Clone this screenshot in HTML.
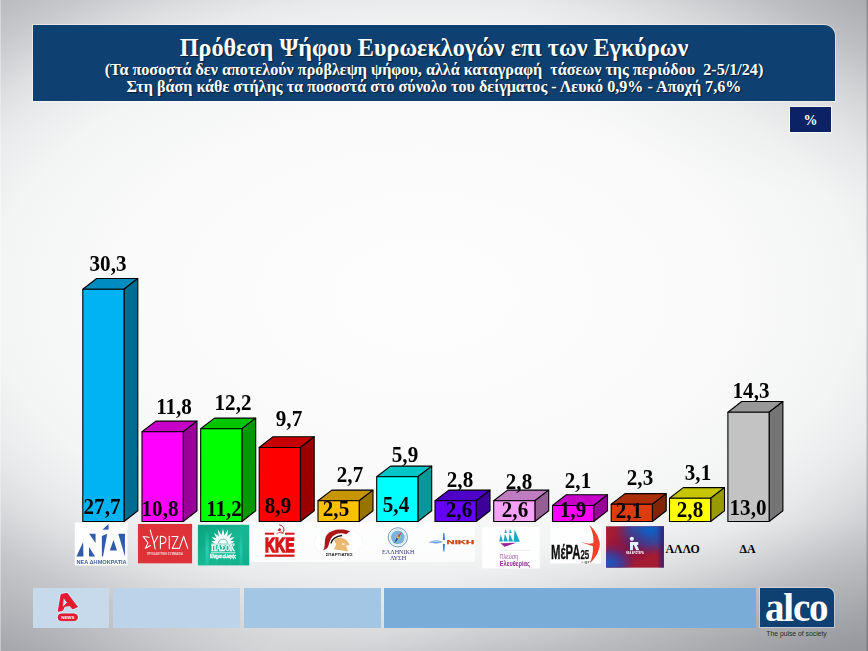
<!DOCTYPE html>
<html lang="el">
<head>
<meta charset="utf-8">
<title>Πρόθεση Ψήφου Ευρωεκλογών</title>
<style>
html,body{margin:0;padding:0;}
body{width:868px;height:651px;overflow:hidden;position:relative;background:#e9e9e9;font-family:"Liberation Serif",serif;}
#bg{position:absolute;left:0;top:0;width:868px;height:651px;
 background:
  linear-gradient(to right, rgba(255,255,255,.35) 0px, rgba(255,255,255,.35) 1px, rgba(255,255,255,0) 1.5px),
  linear-gradient(to left, rgba(60,60,64,.30) 0px, rgba(60,60,64,.30) 1px, rgba(60,60,64,0) 2px),
  radial-gradient(ellipse 340px 200px at 868px 0px, rgba(70,72,76,.10) 0%, rgba(70,72,76,0) 100%),
  radial-gradient(ellipse 420px 130px at 800px 651px, rgba(70,72,76,.16) 0%, rgba(70,72,76,0) 100%),
  radial-gradient(ellipse 220px 70px at 270px 651px, rgba(255,255,255,.28) 0%, rgba(255,255,255,0) 100%),
  radial-gradient(ellipse 600px 360px at 425px 295px, #fdfdfd 0%, #fafafa 50%, #f3f4f4 72%, #e9eaeb 83%, #dddee0 90%, #c7c8cb 100%, #b7b8bc 110%, #a7a8ad 120%, #9b9ca1 132%);
}
#hdr{position:absolute;left:33px;top:25px;width:802px;height:76px;background:#0e4071;border-top-right-radius:11px;
 box-shadow:0 0 0 1px rgba(255,255,255,.45);}
.t{position:absolute;left:0;width:868px;text-align:center;color:#fff;font-weight:bold;white-space:pre;
 text-shadow:1px 1px 1px rgba(0,0,0,.55);}
#t1{top:35.5px;font-size:24.2px;line-height:24.2px;}
#t2{top:61.8px;font-size:16.15px;line-height:16.15px;}
#t3{top:78.8px;font-size:16.15px;line-height:16.15px;}
#pct{position:absolute;left:789.5px;top:107px;width:41px;height:25px;padding-left:1px;box-sizing:border-box;background:#0b2264;box-shadow:0 0 0 1px rgba(255,255,255,.7);
 color:#fff;font-weight:bold;font-size:14px;line-height:27px;text-align:center;}
#chart{position:absolute;left:0;top:0;}
.v{position:absolute;width:80px;text-align:center;font-weight:bold;font-size:22px;line-height:22px;color:#000;white-space:pre;transform:scale(.957,1.05);transform-origin:50% 83.75%;}
.x{position:absolute;font-weight:bold;font-size:11.9px;line-height:12px;color:#000;white-space:pre;}
.seg{position:absolute;top:588px;height:39.7px;}
#alco{position:absolute;left:759.7px;top:588.3px;width:74px;height:39.1px;background:#0e4071;border-top-right-radius:7px;
 box-shadow:0 0 0 1px rgba(255,255,255,.35);}
#alco span{position:absolute;left:5.2px;top:-2.6px;color:#fff;font-weight:bold;font-size:39px;line-height:44px;letter-spacing:-1.15px;}
#pulse{position:absolute;left:766.3px;top:630.2px;font-family:"Liberation Sans",sans-serif;font-size:6.8px;line-height:8px;color:#2a2a2a;white-space:pre;}
</style>
</head>
<body>
<div id="bg"></div>

<div id="hdr"></div>
<div class="t" id="t1">Πρόθεση Ψήφου Ευρωεκλογών επι των Εγκύρων</div>
<div class="t" id="t2">(Τα ποσοστά δεν αποτελούν πρόβλεψη ψήφου, αλλά καταγραφή  τάσεων της περιόδου  2-5/1/24)</div>
<div class="t" id="t3">Στη βάση κάθε στήλης τα ποσοστά στο σύνολο του δείγματος - Λευκό 0,9% - Αποχή 7,6%</div>
<div id="pct">%</div>

<svg id="chart" width="868" height="651" viewBox="0 0 868 651">
<g stroke="#000" stroke-width="1.1" stroke-linejoin="round">
<polygon points="82.8,289.2 96.6,278.5 137.8,278.5 124.0,289.2" fill="#008cbe"/>
<polygon points="124.0,289.2 137.8,278.5 137.8,510.8 124.0,521.5" fill="#006c92"/>
<rect x="82.8" y="289.2" width="41.2" height="232.3" fill="#00b4f4"/>
<polygon points="142.0,431.8 155.8,421.1 197.0,421.1 183.2,431.8" fill="#c600c6"/>
<polygon points="183.2,431.8 197.0,421.1 197.0,510.8 183.2,521.5" fill="#990099"/>
<rect x="142.0" y="431.8" width="41.2" height="89.7" fill="#ff00ff"/>
<polygon points="200.7,428.8 214.5,418.1 255.7,418.1 241.9,428.8" fill="#00c600"/>
<polygon points="241.9,428.8 255.7,418.1 255.7,510.8 241.9,521.5" fill="#009900"/>
<rect x="200.7" y="428.8" width="41.2" height="92.7" fill="#00ff00"/>
<polygon points="259.2,447.5 273.0,436.8 314.2,436.8 300.4,447.5" fill="#c60000"/>
<polygon points="300.4,447.5 314.2,436.8 314.2,510.8 300.4,521.5" fill="#990000"/>
<rect x="259.2" y="447.5" width="41.2" height="74.0" fill="#ff0000"/>
<polygon points="318.0,500.8 331.8,490.1 373.0,490.1 359.2,500.8" fill="#c69500"/>
<polygon points="359.2,500.8 373.0,490.1 373.0,510.8 359.2,521.5" fill="#997300"/>
<rect x="318.0" y="500.8" width="41.2" height="20.7" fill="#ffc000"/>
<polygon points="376.7,476.8 390.5,466.1 431.7,466.1 417.9,476.8" fill="#00c6c6"/>
<polygon points="417.9,476.8 431.7,466.1 431.7,510.8 417.9,521.5" fill="#009999"/>
<rect x="376.7" y="476.8" width="41.2" height="44.7" fill="#00ffff"/>
<polygon points="435.0,500.8 448.8,490.1 490.0,490.1 476.2,500.8" fill="#4f00c6"/>
<polygon points="476.2,500.8 490.0,490.1 490.0,510.8 476.2,521.5" fill="#3d0099"/>
<rect x="435.0" y="500.8" width="41.2" height="20.7" fill="#6600ff"/>
<polygon points="493.7,500.8 507.5,490.1 548.7,490.1 534.9,500.8" fill="#c07cc0"/>
<polygon points="534.9,500.8 548.7,490.1 548.7,510.8 534.9,521.5" fill="#946094"/>
<rect x="493.7" y="500.8" width="41.2" height="20.7" fill="#f7a0f7"/>
<polygon points="552.5,505.5 566.3,494.8 607.5,494.8 593.7,505.5" fill="#c600c6"/>
<polygon points="593.7,505.5 607.5,494.8 607.5,510.8 593.7,521.5" fill="#990099"/>
<rect x="552.5" y="505.5" width="41.2" height="16.0" fill="#ff00ff"/>
<polygon points="611.2,504.3 625.0,493.6 666.2,493.6 652.4,504.3" fill="#ac2e09"/>
<polygon points="652.4,504.3 666.2,493.6 666.2,510.8 652.4,521.5" fill="#842407"/>
<rect x="611.2" y="504.3" width="41.2" height="17.2" fill="#dd3c0c"/>
<polygon points="669.5,498.3 683.3,487.6 724.5,487.6 710.7,498.3" fill="#c6c600"/>
<polygon points="710.7,498.3 724.5,487.6 724.5,510.8 710.7,521.5" fill="#999900"/>
<rect x="669.5" y="498.3" width="41.2" height="23.2" fill="#ffff00"/>
<polygon points="727.9,412.2 741.7,401.5 782.9,401.5 769.1,412.2" fill="#989898"/>
<polygon points="769.1,412.2 782.9,401.5 782.9,510.8 769.1,521.5" fill="#757575"/>
<rect x="727.9" y="412.2" width="41.2" height="109.3" fill="#c3c3c3"/>
</g>
</svg>

<div class="v" style="left:67.7px;top:252.6px">30,3</div>
<div class="v" style="left:134.0px;top:396.2px">11,8</div>
<div class="v" style="left:192.8px;top:392.4px">12,2</div>
<div class="v" style="left:248.8px;top:408.1px">9,7</div>
<div class="v" style="left:309.6px;top:464.4px">2,7</div>
<div class="v" style="left:364.6px;top:443.9px">5,9</div>
<div class="v" style="left:419.8px;top:468.6px">2,8</div>
<div class="v" style="left:478.8px;top:471.4px">2,8</div>
<div class="v" style="left:537.5px;top:469.9px">2,1</div>
<div class="v" style="left:600.4px;top:466.9px">2,3</div>
<div class="v" style="left:657.9px;top:462.4px">3,1</div>
<div class="v" style="left:711.3px;top:379.9px">14,3</div>
<div class="v" style="left:61.5px;top:496.3px">27,7</div>
<div class="v" style="left:120.3px;top:497.8px">10,8</div>
<div class="v" style="left:183.5px;top:497.8px">11,2</div>
<div class="v" style="left:238.0px;top:494.9px">8,9</div>
<div class="v" style="left:296.3px;top:498.1px">2,5</div>
<div class="v" style="left:355.9px;top:493.6px">5,4</div>
<div class="v" style="left:418.5px;top:498.8px">2,6</div>
<div class="v" style="left:474.6px;top:498.8px">2,6</div>
<div class="v" style="left:532.8px;top:498.8px">1,9</div>
<div class="v" style="left:589.4px;top:499.8px">2,1</div>
<div class="v" style="left:650.3px;top:498.8px">2,8</div>
<div class="v" style="left:708.0px;top:496.8px">13,0</div>

<div class="x" style="left:665.5px;top:542.5px">ΑΛΛΟ</div>
<div class="x" style="left:739.5px;top:543px">ΔΑ</div>

<svg id="logos" style="position:absolute;left:0;top:0" width="868" height="651" viewBox="0 0 868 651" font-family="Liberation Sans, sans-serif">
<defs>
<linearGradient id="gp" x1="0" y1="0" x2="1" y2="1"><stop offset="0" stop-color="#0aa27c"/><stop offset=".5" stop-color="#16b892"/><stop offset="1" stop-color="#10ae8c"/></linearGradient>
<linearGradient id="gps" x1="0" y1="0" x2="0" y2="1"><stop offset="0" stop-color="#3fe8d8" stop-opacity="0"/><stop offset=".55" stop-color="#3fe8d8" stop-opacity=".55"/><stop offset="1" stop-color="#3fe8d8" stop-opacity=".25"/></linearGradient>
<radialGradient id="na1" cx="0.76" cy="0.08" r="0.62"><stop offset="0" stop-color="#0a62c8"/><stop offset=".55" stop-color="#1c50b4" stop-opacity=".75"/><stop offset="1" stop-color="#2a3aa0" stop-opacity="0"/></radialGradient>
<radialGradient id="na2" cx="0.05" cy="0.88" r="0.46"><stop offset="0" stop-color="#1c58c0"/><stop offset=".5" stop-color="#3040a8" stop-opacity=".8"/><stop offset="1" stop-color="#5a2890" stop-opacity="0"/></radialGradient>
<linearGradient id="na3" x1="0" y1="0" x2="1" y2="0"><stop offset=".88" stop-color="#281c78" stop-opacity="0"/><stop offset="1" stop-color="#281c78" stop-opacity=".85"/></linearGradient>
<radialGradient id="na4" cx="0.42" cy="0.5" r="0.42"><stop offset="0" stop-color="#5c1464" stop-opacity=".55"/><stop offset="1" stop-color="#5c1464" stop-opacity="0"/></radialGradient>
<filter id="b1" x="-20%" y="-20%" width="140%" height="140%"><feGaussianBlur stdDeviation="0.35"/></filter>
</defs>
<g filter="url(#b1)">
<rect x="74.8" y="522.4" width="52.6" height="43" fill="#fefefe"/>
<g fill="#2d5cab">
<polygon points="76.49,556.49 83.12,541.96 83.42,556.49"/>
<polygon points="89.17,533.63 95.59,533.63 95.59,542.92"/>
<polygon points="89.02,547.12 89.02,556.49 95.07,556.49"/>
<polygon points="108.49,524.05 108.64,529.43 102.44,529.65"/>
<polygon points="101.85,536.06 107.24,533.63 102.96,556.49 101.85,556.49"/>
<polygon points="113.50,540.12 116.97,550.44 109.82,550.44"/>
<polygon points="118.29,533.63 124.93,533.63 124.93,556.49"/>
</g>
<text x="76.4" y="563.9" font-size="4.9" font-weight="bold" fill="#44639c" textLength="50.3" lengthAdjust="spacingAndGlyphs">ΝΕΑ ΔΗΜΟΚΡΑΤΙΑ</text>
<rect x="137.4" y="523.4" width="55.2" height="40.5" fill="#fbf4f4"/>
<rect x="137.9" y="523.9" width="54.2" height="39.5" fill="#dc3238"/>
<g fill="none" stroke="#fff" stroke-width="1.05" stroke-linecap="round" stroke-linejoin="round">
<polyline points="149.11,537.32 143.06,536.43 147.93,542.70 145.49,548.38 150.43,545.43"/>
<polyline points="150.14,529.94 154.12,543.07 155.08,548.97"/>
<polyline points="157.81,536.14 154.12,543.07"/>
<path d="M160.39,548.60 L160.39,536.29 C167.85,536.29 167.85,543.66 160.39,543.66"/>
<polyline points="169.24,536.21 169.24,548.60"/>
<polyline points="171.89,536.43 178.01,536.43 172.26,548.38 178.45,548.38"/>
<polyline points="179.34,548.60 183.61,536.21 187.82,548.60"/>
</g>
<text x="147.1" y="554.9" font-size="2.7" font-weight="bold" fill="#fff" fill-opacity=".8" textLength="35.8" lengthAdjust="spacingAndGlyphs">ΠΡΟΟΔΕΥΤΙΚΗ ΣΥΜΜΑΧΙΑ</text>
<rect x="197.9" y="524.8" width="51.3" height="40.6" fill="url(#gp)"/>
<rect x="205.5" y="530" width="3.2" height="35.4" fill="url(#gps)" opacity="0.90"/>
<rect x="215.5" y="530" width="2.2" height="35.4" fill="url(#gps)" opacity="0.35"/>
<rect x="228.5" y="530" width="2.4" height="35.4" fill="url(#gps)" opacity="0.30"/>
<rect x="239.5" y="530" width="3.0" height="35.4" fill="url(#gps)" opacity="0.70"/>
<g fill="#fff"><polygon points="217.34,540.54 211.25,541.52 216.64,544.52"/><polygon points="218.72,538.80 211.54,536.99 216.70,542.30"/><polygon points="220.61,537.63 213.80,532.66 217.52,540.23"/><polygon points="222.79,537.19 217.85,529.53 218.99,538.57"/><polygon points="224.99,537.51 222.97,528.39 220.95,537.51"/><polygon points="226.94,538.57 228.08,529.53 223.15,537.19"/><polygon points="228.42,540.23 232.14,532.66 225.32,537.63"/><polygon points="229.24,542.30 234.40,536.99 227.22,538.80"/><polygon points="229.30,544.52 234.68,541.52 228.60,540.54"/>
<path d="M215.57,543.59 A7.4,7.4 0 0 1 230.37,543.59 Z"/>
</g>
<path d="M218.37,543.59 A4.6,4.6 0 0 1 227.57,543.59" fill="none" stroke="#16b48e" stroke-width=".7"/>
<rect x="211.2" y="543.6" width="23.6" height="1.0" fill="#fff"/>
<text x="211.3" y="551.3" font-family="Liberation Serif, serif" font-size="8.3" font-weight="bold" fill="#fff" stroke="#fff" stroke-width=".3" textLength="23.5" lengthAdjust="spacingAndGlyphs">ΠΑΣΟΚ</text>
<rect x="210.8" y="552.4" width="24.7" height=".8" fill="#fff"/>
<text x="210.1" y="557.9" font-size="4.8" font-weight="bold" font-style="italic" fill="#fff" stroke="#fff" stroke-width=".35" textLength="26" lengthAdjust="spacingAndGlyphs">Κίνημα αλλαγής</text>
<rect x="250.4" y="522" width="224.4" height="40" fill="#fefefe" opacity=".85"/>
<g fill="#d7161a">
<rect x="264.9" y="532.7" width="9.3" height="2.0"/><rect x="285.0" y="532.7" width="9.5" height="2.0"/>
<rect x="264.9" y="554.6" width="29.6" height="2.2"/>
<text x="264.9" y="551.9" font-size="19.4" font-weight="bold" stroke="#d7161a" stroke-width="1.5" stroke-linejoin="miter" textLength="29.6" lengthAdjust="spacingAndGlyphs">ΚΚΕ</text>
</g>
<path d="M279.56,524.78 C284.87,526.11 284.87,531.27 282.51,533.12" fill="none" stroke="#c8161a" stroke-width="1.0" stroke-linecap="round"/>
<polygon points="277.49,530.17 279.71,527.95 281.18,529.65 279.34,531.27" fill="#c8161a"/>
<polyline points="279.34,529.80 283.39,533.85" fill="none" stroke="#c8161a" stroke-width=".8"/>
<polyline points="276.39,533.85 278.97,532.38 282.51,533.12" fill="none" stroke="#c8161a" stroke-width=".7"/>
<ellipse cx="338.5" cy="542.4" rx="24" ry="15.5" fill="#fff" stroke="#f0f0f0" stroke-width=".5"/>
<path d="M322.75,550.44 C326.43,547.49 323.12,540.12 326.80,534.96 C330.86,529.80 341.18,527.95 350.18,531.27 C348.18,532.38 347.45,533.12 346.34,534.37 C340.44,532.01 333.81,533.85 330.86,538.65 C327.91,543.81 330.12,548.23 322.75,550.44 Z" fill="#ab1418"/>
<path d="M331.00,543.44 C331.59,539.38 336.02,536.06 342.06,535.55" fill="none" stroke="#1c1418" stroke-width="1.5"/>
<polygon points="333.95,540.12 337.12,538.06 341.92,537.76 346.34,540.12 349.73,544.69 345.75,545.87 348.26,551.55 342.65,550.44 333.81,549.34 336.17,544.54" fill="#ebb96e"/>
<polygon points="342.06,542.92 345.75,543.95 342.65,545.13" fill="#fff"/>
<text x="325.7" y="555.6" font-size="2.7" font-weight="bold" fill="#222" textLength="26.9" lengthAdjust="spacingAndGlyphs">ΣΠΑΡΤΙΑΤΕΣ</text>
<circle cx="397.85" cy="537.32" r="9.6" fill="#fff" stroke="#5f8cc4" stroke-width=".9"/>
<circle cx="397.85" cy="537.32" r="7.9" fill="none" stroke="#b9cfe6" stroke-width=".6"/>
<circle cx="397.85" cy="537.32" r="6.8" fill="#74b2dc"/>
<circle cx="397.85" cy="537.32" r="3.2" fill="#9cc8a0" opacity=".55"/>
<polygon points="401.91,531.49 398.81,538.28 396.97,536.80" fill="#d8343c"/>
<polygon points="394.24,543.59 396.97,536.80 398.81,538.28" fill="#2c3c98"/>
<circle cx="397.85" cy="537.52" r="1.1" fill="#f4d23c"/>
<text x="382.1" y="554.1" font-family="Liberation Serif, serif" font-size="5.4" fill="#34347c" textLength="32.2" lengthAdjust="spacingAndGlyphs">ΕΛΛΗΝΙΚΗ</text>
<text x="390.0" y="559.9" font-family="Liberation Serif, serif" font-size="5.4" fill="#34347c" textLength="16.2" lengthAdjust="spacingAndGlyphs">ΛΥΣΗ</text>
<polygon points="443.38,533.12 444.41,533.12 445.00,540.12 442.79,540.12" fill="#2f7cd8"/>
<polygon points="442.87,543.95 444.93,543.95 444.41,551.55 443.38,551.55" fill="#2f7cd8"/>
<path d="M428.64,542.33 C433.06,539.97 439.70,539.82 442.65,542.04 C439.33,543.95 433.06,543.66 428.64,542.33 Z" fill="#5a9ce4"/>
<path d="M430.85,542.33 C434.53,541.30 437.85,541.30 440.06,542.04" fill="none" stroke="#eef4fc" stroke-width=".6"/>
<text x="446.6" y="544.2" font-size="5.9" font-weight="bold" fill="#cc4614" stroke="#cc4614" stroke-width=".25" textLength="27.6" lengthAdjust="spacingAndGlyphs">ΝΙΚΗ</text>
<rect x="482.2" y="527" width="57.5" height="41.4" fill="#fefefe"/>
<g fill="#1fa8c4">
<polygon points="499.32,541.53 500.65,534.38 503.00,541.53"/>
<polygon points="503.45,541.53 504.92,533.64 508.02,541.53"/>
<polygon points="504.48,533.12 505.44,529.00 506.99,533.12"/>
<polygon points="508.46,541.53 509.49,533.64 513.18,541.53"/>
<polygon points="509.20,533.12 509.94,529.00 511.85,533.12"/>
<polygon points="513.62,541.82 514.65,529.44 519.96,541.82"/>
</g>
<polygon points="500.50,543.23 516.28,542.86 504.48,546.84" fill="#9a2296"/>
<rect x="499.8" y="549.9" width="30.4" height=".45" fill="#d4d4d4"/>
<text x="499.4" y="558.6" font-size="6.6" fill="#a860a8" textLength="19" lengthAdjust="spacingAndGlyphs">Πλεύση</text>
<text x="499.8" y="566.4" font-size="6.6" font-weight="bold" fill="#8e2890" textLength="30.2" lengthAdjust="spacingAndGlyphs">Ελευθερίας</text>
<rect x="550.3" y="523.5" width="50.5" height="39.9" fill="#fefefe"/>
<text x="551.0" y="558.6" font-size="19.7" font-weight="bold" fill="#111" stroke="#111" stroke-width=".35" textLength="29.4" lengthAdjust="spacingAndGlyphs">ΜέΡΑ</text>
<text x="580.4" y="558.6" font-size="12.4" font-weight="bold" fill="#111" stroke="#111" stroke-width=".25" textLength="8.9" lengthAdjust="spacingAndGlyphs">25</text>
<path d="M589.12,524.78 C595.61,530.53 599.30,537.91 599.89,543.95 C599.45,551.18 595.61,558.18 589.86,563.12 C591.93,558.92 593.25,552.65 592.96,546.02 C594.14,539.38 593.25,532.01 589.12,524.78 Z" fill="#f4402a"/>
<path d="M593.55,546.61 L580.87,542.04 L588.98,543.81 L582.34,544.99 L593.55,542.92 Z" fill="#f4402a"/>
<circle cx="582.1" cy="562.1" r=".7" fill="#e8402a"/>
<text x="583.2" y="563.3" font-size="3.2" font-weight="bold" fill="#555" textLength="6.4" lengthAdjust="spacingAndGlyphs">.gr</text>
<rect x="606.1" y="526.3" width="57.7" height="41.3" fill="#a41a32"/>
<rect x="606.1" y="526.3" width="57.7" height="41.3" fill="url(#na1)"/>
<rect x="606.1" y="526.3" width="57.7" height="41.3" fill="url(#na2)"/>
<rect x="606.1" y="526.3" width="57.7" height="41.3" fill="url(#na3)"/>
<rect x="606.1" y="526.3" width="57.7" height="41.3" fill="url(#na4)"/>
<g fill="#e2f0ff">
<circle cx="631.86" cy="538.80" r="2.1"/>
<polygon points="630.02,542.12 638.28,542.12 638.28,544.92 632.97,544.92 632.97,550.23 630.02,550.23"/>
<polygon points="633.56,544.70 636.65,544.70 639.31,550.23 636.21,550.23"/>
</g>
<text x="626" y="554.4" font-size="2.8" font-weight="bold" fill="#fff" textLength="17.7" lengthAdjust="spacingAndGlyphs">ΝΕΑ ΑΡΙΣΤΕΡΑ</text>
</g>
</svg>

<div class="seg" style="left:33px;width:76.1px;background:#c6daec"></div>
<div class="seg" style="left:112.5px;width:127.5px;background:#bdd3ea"></div>
<div class="seg" style="left:243.5px;width:137.5px;background:#a4c6e5"></div>
<div class="seg" style="left:384px;width:371.5px;background:#79add7"></div>
<div id="alco"><span>alco</span></div>
<div id="pulse">The pulse of society</div>
<svg style="position:absolute;left:0;top:0" width="868" height="651" viewBox="0 0 868 651" font-family="Liberation Sans, sans-serif">
<g stroke="#c9f0f8" stroke-width="2.6" stroke-linejoin="round" fill="#e21a30"><path fill-rule="evenodd" d="M61.16,594.39 L67.23,593.35 L77.42,606.90 L72.52,608.97 L69.81,605.74 L64.65,606.26 L62.45,610.52 L58.19,611.29 Z M63.35,597.10 L67.35,602.65 L62.45,607.81 Z"/><rect x="58.1" y="613.9" width="19.4" height="6.8" rx="3.4"/></g>
<g stroke="#e21a30" stroke-width=".9" stroke-linejoin="round" fill="#e21a30"><path fill-rule="evenodd" d="M61.16,594.39 L67.23,593.35 L77.42,606.90 L72.52,608.97 L69.81,605.74 L64.65,606.26 L62.45,610.52 L58.19,611.29 Z M63.35,597.10 L67.35,602.65 L62.45,607.81 Z"/><rect x="58.1" y="613.9" width="19.4" height="6.8" rx="3.4"/></g>
<text x="61.3" y="618.9" font-size="4.2" font-weight="bold" fill="#fff" textLength="13" lengthAdjust="spacingAndGlyphs">NEWS</text>
</svg>
</body>
</html>
